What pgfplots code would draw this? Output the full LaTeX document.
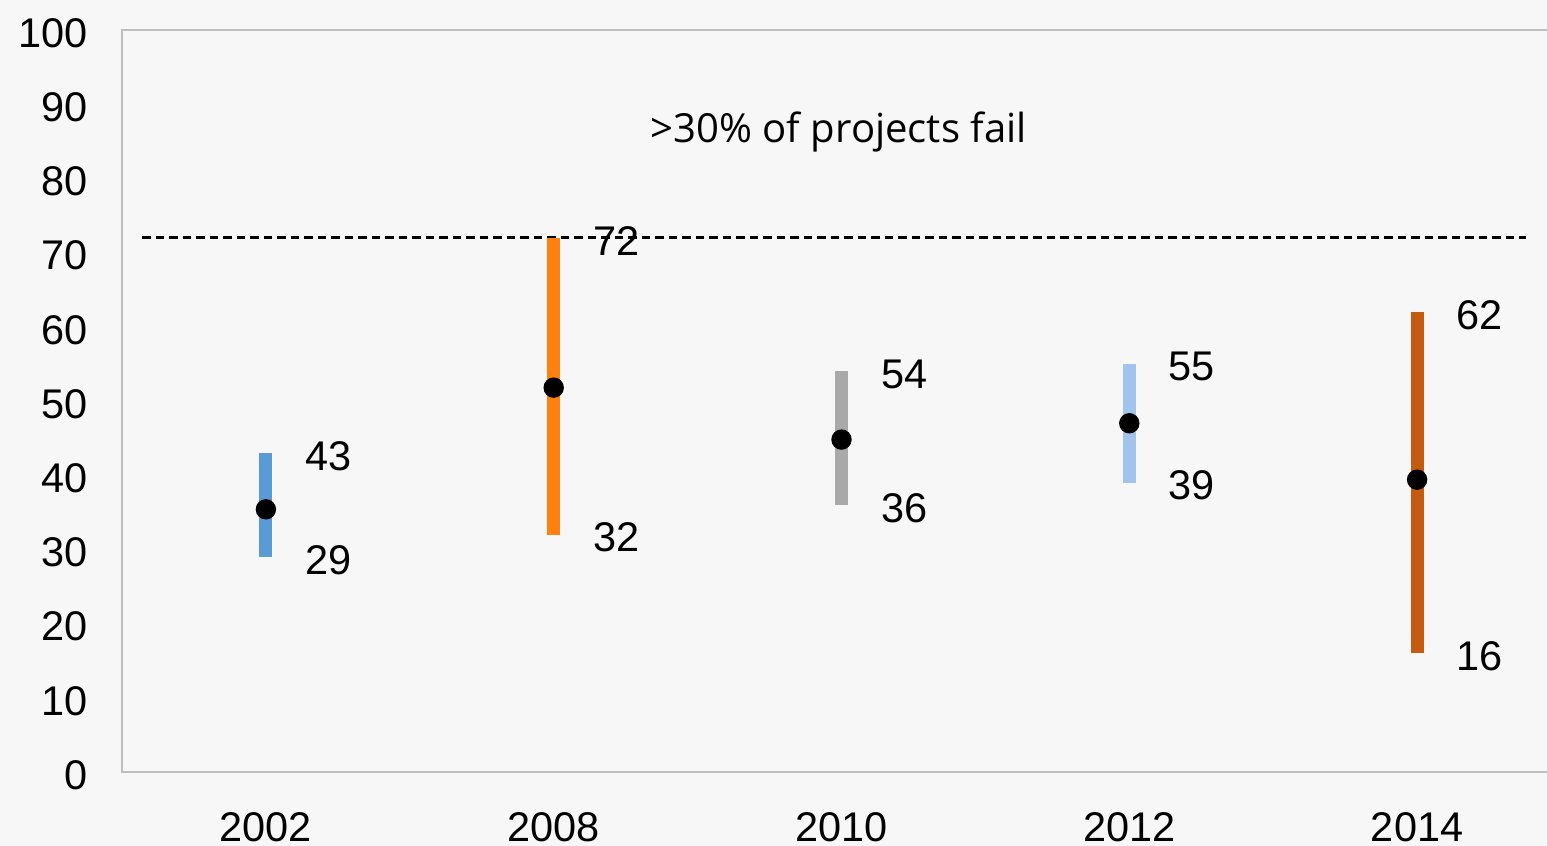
\documentclass[border=0pt]{standalone}
\usepackage{pgfplots}
\pgfplotsset{compat=1.18}
\usepackage{fontspec}
\setmainfont{Liberation Sans}
\newfontfamily\notefont{Open Sans}

\definecolor{bg}{HTML}{F7F7F7}
\definecolor{axgray}{HTML}{BFBFBF}
\definecolor{cA}{HTML}{5B9BD5}
\definecolor{cB}{HTML}{FF800E}
\definecolor{cC}{HTML}{A9A9A9}
\definecolor{cD}{HTML}{A0C4EC}
\definecolor{cE}{HTML}{C55A11}

\begin{document}
\begin{tikzpicture}
\path[use as bounding box, fill=bg] (-12.2mm,-7.4mm) rectangle (142.5mm,77.2mm);
\clip (-12.2mm,-7.4mm) rectangle (142.5mm,77.2mm);
\begin{axis}[
  at={(0,0)}, anchor=south west,
  scale only axis,
  width=143.9mm, height=74.2mm,
  xmin=-0.5, xmax=4.5,
  ymin=0, ymax=100,
  xtick={0,1,2,3,4},
  xticklabels={2002,2008,2010,2012,2014},
  ytick={0,10,...,100},
  major tick length=0pt,
  axis line style={axgray, line width=0.4pt},
  tick label style={font=\fontsize{11.8}{14}\selectfont},
  /pgf/number format/assume math mode=true,
  xticklabel style={yshift=-2.8mm},
  yticklabel style={xshift=-2.2mm, yshift=-0.3mm},
  clip=false,
  nodes near coords,
  point meta=y,
  nodes near coords style={anchor=west, inner sep=0pt, xshift=3.3mm, yshift=-0.3mm, text=black,
    font=\fontsize{11.8}{14}\selectfont},
]
\addplot[black, line width=0.75pt, dash pattern=on 0.85mm off 0.5mm, nodes near coords={}]
  coordinates {(-0.43,72) (4.38,72)};

\addplot[cA, line width=3.7pt] coordinates {(0,29) (0,43)};
\addplot[cB, line width=3.7pt] coordinates {(1,32) (1,72)};
\addplot[cC, line width=3.7pt] coordinates {(2,36) (2,54)};
\addplot[cD, line width=3.7pt] coordinates {(3,39) (3,55)};
\addplot[cE, line width=3.7pt] coordinates {(4,16) (4,62)};

\addplot[only marks, mark=*, mark size=2.7pt, black, nodes near coords={}]
  coordinates {(0,35.4) (1,51.8) (2,44.8) (3,47.0) (4,39.4)};

\node[font=\notefont\fontsize{11.4}{13}\selectfont] at (axis cs:1.99,86.3) {>30\% of projects fail};
\end{axis}
\end{tikzpicture}
\end{document}
